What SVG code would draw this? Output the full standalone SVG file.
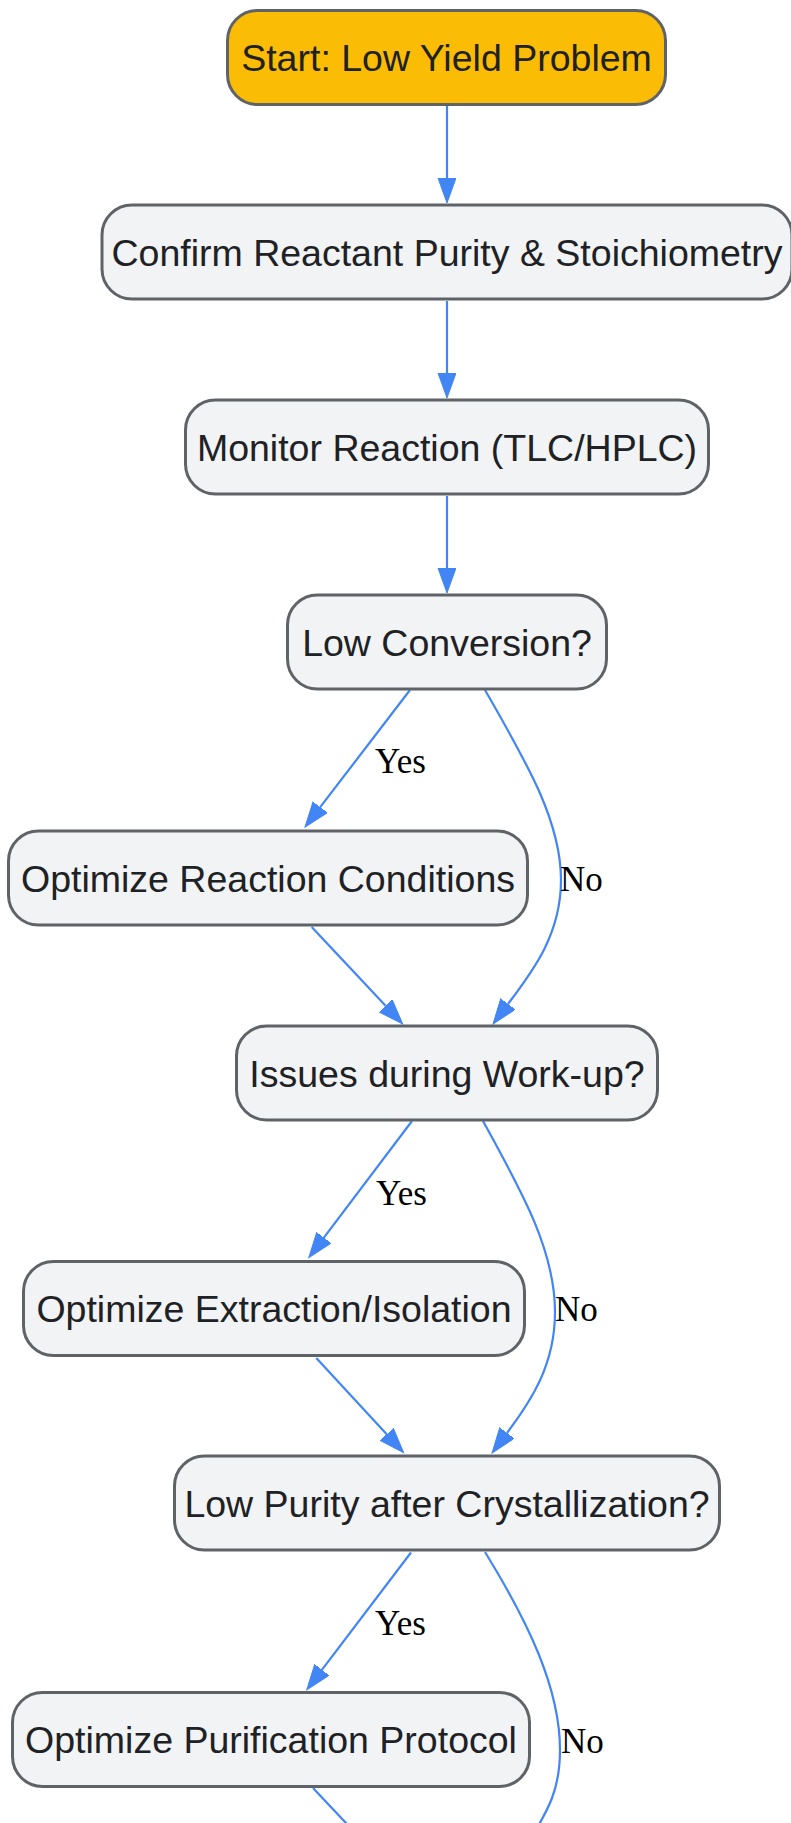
<svg xmlns="http://www.w3.org/2000/svg" width="791" height="1823" viewBox="0 0 791 1823">
<style>
.n rect{fill:#F1F3F4;stroke:#5F6368;stroke-width:3}
.n.start rect{fill:#FBBC05}
.n text{font-family:"Liberation Sans",Arial,sans-serif;font-size:37.5px;fill:#202124;text-anchor:middle}
.e path{fill:none;stroke:#4285F4;stroke-width:2.2;marker-end:url(#ah)}
.e path.open{marker-end:none}
.lbl{font-family:"Liberation Serif","Times New Roman",serif;font-size:35px;fill:#000}
</style>
<defs>
<marker id="ah" markerUnits="userSpaceOnUse" markerWidth="28" markerHeight="22" refX="0" refY="9" orient="auto" viewBox="0 0 28 22">
<path d="M0,0 L25,9 L0,18 Z" fill="#4285F4" stroke="#4285F4" stroke-width="1"/>
</marker>
</defs>
<rect width="791" height="1823" fill="#fff"/>
<g id="edges" class="e">
<path d="M447,106 L447,178"/>
<path d="M447,301 L447,373"/>
<path d="M447,496 L447,568"/>
<path d="M410,690 L320.2,807.2"/>
<path d="M485,690 C525,760 561,820 561,880 C561,935 532,972 508,1004"/>
<path d="M311.7,927 L385.6,1005.8"/>
<path d="M412,1121 L323.9,1237.7"/>
<path d="M483,1121 C521,1190 555,1250 555,1312 C555,1365 531,1401 507,1433"/>
<path d="M316.3,1358 L386.7,1434.3"/>
<path d="M411,1552.5 L321.9,1669.8"/>
<path class="open" d="M485,1552 C528,1622 560,1688 560,1750 C560,1790 548,1810 530,1840"/>
<path class="open" d="M313,1788 L362,1840"/>
<text class="lbl" x="375" y="773">Yes</text>
<text class="lbl" x="560" y="891">No</text>
<text class="lbl" x="376" y="1204.5">Yes</text>
<text class="lbl" x="555" y="1321">No</text>
<text class="lbl" x="375" y="1634.5">Yes</text>
<text class="lbl" x="561" y="1753">No</text>
</g>
<g id="start" class="n start"><rect x="227.5" y="10.5" width="438" height="94" rx="30"/><text x="446.5" y="71">Start: Low Yield Problem</text></g>
<g id="confirm" class="n"><rect x="102" y="205" width="690" height="94" rx="30"/><text x="447" y="265.5">Confirm Reactant Purity &amp; Stoichiometry</text></g>
<g id="monitor" class="n"><rect x="185.5" y="400" width="523" height="94" rx="30"/><text x="447" y="460.5">Monitor Reaction (TLC/HPLC)</text></g>
<g id="lowconv" class="n"><rect x="287.5" y="595" width="319" height="94" rx="30"/><text x="447" y="655.5">Low Conversion?</text></g>
<g id="optreact" class="n"><rect x="8.5" y="831" width="519" height="94" rx="30"/><text x="268" y="891.5">Optimize Reaction Conditions</text></g>
<g id="workup" class="n"><rect x="236.5" y="1026" width="421" height="94" rx="30"/><text x="447" y="1086.5">Issues during Work-up?</text></g>
<g id="optextract" class="n"><rect x="23.5" y="1261.5" width="501" height="94" rx="30"/><text x="274" y="1322">Optimize Extraction/Isolation</text></g>
<g id="lowpurity" class="n"><rect x="174.5" y="1456" width="545" height="94" rx="30"/><text x="447" y="1516.5">Low Purity after Crystallization?</text></g>
<g id="optpurif" class="n"><rect x="12.5" y="1692.5" width="517" height="94" rx="30"/><text x="271" y="1753">Optimize Purification Protocol</text></g>
</svg>
